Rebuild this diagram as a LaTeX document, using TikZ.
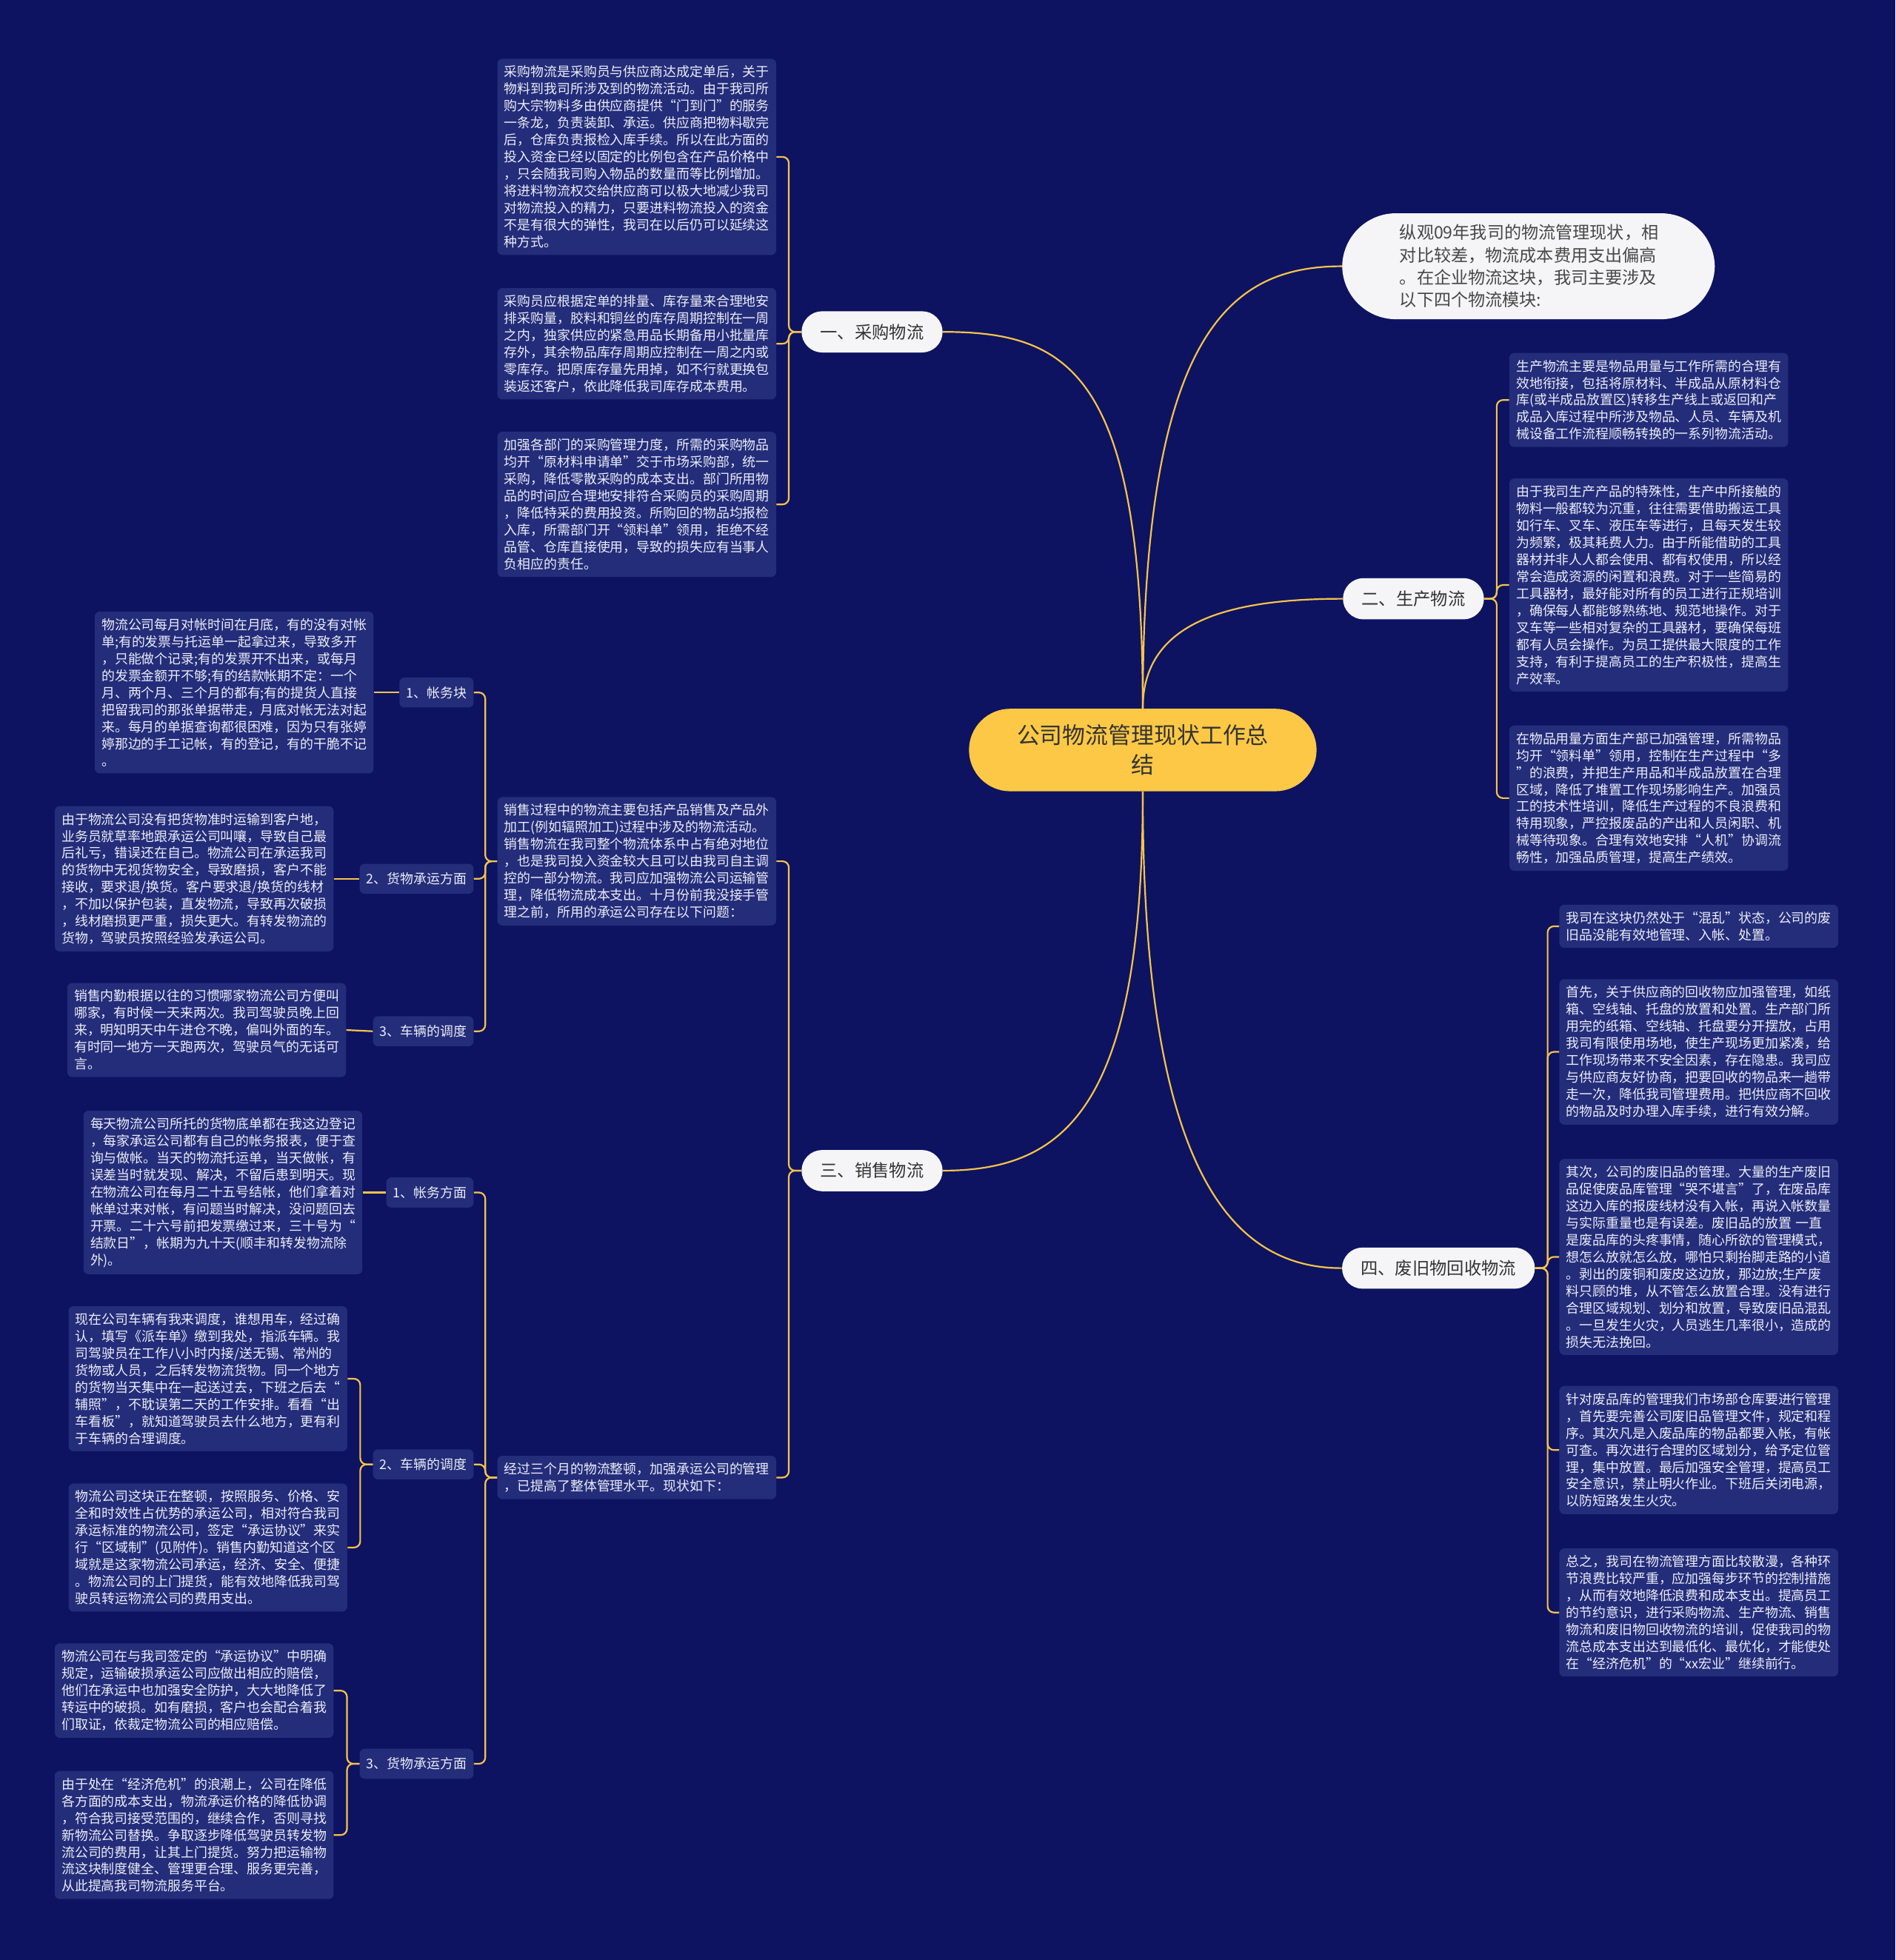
\documentclass[tikz,border=0pt]{standalone}
\usepackage{fontspec}
\setmainfont{Noto Sans CJK SC}
\definecolor{bgnavy}{RGB}{13,19,97}
\definecolor{boxnavy}{RGB}{36,45,122}
\definecolor{linkyellow}{RGB}{247,196,74}
\definecolor{rootyellow}{RGB}{253,200,69}
\definecolor{pillwhite}{RGB}{245,245,247}
\definecolor{darktext}{RGB}{51,51,51}
\definecolor{lighttext}{RGB}{236,238,246}
\tikzset{
  notebox/.style={fill=boxnavy, rounded corners=4pt, text=lighttext, text width=212pt,
    align=left, inner xsep=5.5pt, inner ysep=5.5pt, font=\fontsize{10.6}{13.6}\selectfont},
  subbranch/.style={fill=boxnavy, rounded corners=4pt, text=lighttext, inner xsep=5.5pt,
    inner ysep=0pt, minimum height=24pt, font=\fontsize{10.6}{13.6}\selectfont},
  branch/.style={fill=pillwhite, rounded corners=16.5pt, text=darktext, inner xsep=15pt,
    inner ysep=0pt, minimum height=33pt, font=\fontsize{13.8}{16}\selectfont},
  rootnode/.style={fill=rootyellow, rounded corners=33pt, text=darktext, align=center,
    minimum width=278pt, minimum height=66pt, font=\fontsize{18.3}{24}\selectfont},
  intro/.style={fill=pillwhite, rounded corners=43pt, text=darktext!90, text width=206pt,
    align=left, inner xsep=46pt, inner ysep=9pt, font=\fontsize{13.7}{18}\selectfont},
  link/.style={draw=linkyellow, line width=1.3pt, rounded corners=5pt}
}
\begin{document}
\begin{tikzpicture}[x=1pt, y=-1pt]
  \fill[bgnavy] (0,0) rectangle (1516,1568);
  % centre and main branches
  \node[rootnode] (root) at (914,600) {公司物流管理现状工作总\\结};
  \node[intro] (intro) at (1222.5,213) {纵观09年我司的物流管理现状，相\\对比较差，物流成本费用支出偏高\\。在企业物流这块，我司主要涉及\\以下四个物流模块:};
  \node[branch] (b1) at (697.5,265.5) {一、采购物流};
  \node[branch] (b2) at (1130.5,479) {二、生产物流};
  \node[branch] (b3) at (697.5,936.5) {三、销售物流};
  \node[branch] (b4) at (1150.5,1014.5) {四、废旧物回收物流};

  % 采购物流
  \node[notebox, anchor=east] (p1) at (621,125.5) {采购物流是采购员与供应商达成定单后，关于\\物料到我司所涉及到的物流活动。由于我司所\\购大宗物料多由供应商提供“门到门”的服务\\一条龙，负责装卸、承运。供应商把物料歇完\\后，仓库负责报检入库手续。所以在此方面的\\投入资金已经以固定的比例包含在产品价格中\\，只会随我司购入物品的数量而等比例增加。\\将进料物流权交给供应商可以极大地减少我司\\对物流投入的精力，只要进料物流投入的资金\\不是有很大的弹性，我司在以后仍可以延续这\\种方式。};
  \node[notebox, anchor=east] (p2) at (621,275) {采购员应根据定单的排量、库存量来合理地安\\排采购量，胶料和铜丝的库存周期控制在一周\\之内，独家供应的紧急用品长期备用小批量库\\存外，其余物品库存周期应控制在一周之内或\\零库存。把原库存量先用掉，如不行就更换包\\装返还客户，依此降低我司库存成本费用。};
  \node[notebox, anchor=east] (p3) at (621,403.5) {加强各部门的采购管理力度，所需的采购物品\\均开“原材料申请单”交于市场采购部，统一\\采购，降低零散采购的成本支出。部门所用物\\品的时间应合理地安排符合采购员的采购周期\\，降低特采的费用投资。所购回的物品均报检\\入库，所需部门开“领料单”领用，拒绝不经\\品管、仓库直接使用，导致的损失应有当事人\\负相应的责任。};

  % 生产物流
  \node[notebox, anchor=west] (m1) at (1207,320) {生产物流主要是物品用量与工作所需的合理有\\效地衔接，包括将原材料、半成品从原材料仓\\库(或半成品放置区)转移生产线上或返回和产\\成品入库过程中所涉及物品、人员、车辆及机\\械设备工作流程顺畅转换的一系列物流活动。};
  \node[notebox, anchor=west] (m2) at (1207,468) {由于我司生产产品的特殊性，生产中所接触的\\物料一般都较为沉重，往往需要借助搬运工具\\如行车、叉车、液压车等进行，且每天发生较\\为频繁，极其耗费人力。由于所能借助的工具\\器材并非人人都会使用、都有权使用，所以经\\常会造成资源的闲置和浪费。对于一些简易的\\工具器材，最好能对所有的员工进行正规培训\\，确保每人都能够熟练地、规范地操作。对于\\叉车等一些相对复杂的工具器材，要确保每班\\都有人员会操作。为员工提供最大限度的工作\\支持，有利于提高员工的生产积极性，提高生\\产效率。};
  \node[notebox, anchor=west] (m3) at (1207,638.5) {在物品用量方面生产部已加强管理，所需物品\\均开“领料单”领用，控制在生产过程中“多\\”的浪费，并把生产用品和半成品放置在合理\\区域，降低了堆置工作现场影响生产。加强员\\工的技术性培训，降低生产过程的不良浪费和\\特用现象，严控报废品的产出和人员闲职、机\\械等待现象。合理有效地安排“人机”协调流\\畅性，加强品质管理，提高生产绩效。};

  % 销售物流
  \node[notebox, anchor=east] (s1) at (621,689) {销售过程中的物流主要包括产品销售及产品外\\加工(例如辐照加工)过程中涉及的物流活动。\\销售物流在我司整个物流体系中占有绝对地位\\，也是我司投入资金较大且可以由我司自主调\\控的一部分物流。我司应加强物流公司运输管\\理，降低物流成本支出。十月份前我没接手管\\理之前，所用的承运公司存在以下问题：};
  \node[notebox, anchor=east] (s2) at (621,1182) {经过三个月的物流整顿，加强承运公司的管理\\，已提高了整体管理水平。现状如下：};

  \node[subbranch, anchor=east] (s11) at (379,554) {1、帐务块};
  \node[subbranch, anchor=east] (s12) at (379,703) {2、货物承运方面};
  \node[subbranch, anchor=east] (s13) at (379,825) {3、车辆的调度};
  \node[notebox, anchor=east] (s11t) at (299,554) {物流公司每月对帐时间在月底，有的没有对帐\\单;有的发票与托运单一起拿过来，导致多开\\，只能做个记录;有的发票开不出来，或每月\\的发票金额开不够;有的结款帐期不定：一个\\月、两个月、三个月的都有;有的提货人直接\\把留我司的那张单据带走，月底对帐无法对起\\来。每月的单据查询都很困难，因为只有张婷\\婷那边的手工记帐，有的登记，有的干脆不记\\。};
  \node[notebox, anchor=east] (s12t) at (267,703) {由于物流公司没有把货物准时运输到客户地，\\业务员就草率地跟承运公司叫嚷，导致自己最\\后礼亏，错误还在自己。物流公司在承运我司\\的货物中无视货物安全，导致磨损，客户不能\\接收，要求退/换货。客户要求退/换货的线材\\，不加以保护包装，直发物流，导致再次破损\\，线材磨损更严重，损失更大。有转发物流的\\货物，驾驶员按照经验发承运公司。};
  \node[notebox, anchor=east] (s13t) at (277,824) {销售内勤根据以往的习惯哪家物流公司方便叫\\哪家，有时候一天来两次。我司驾驶员晚上回\\来，明知明天中午进仓不晚，偏叫外面的车。\\有时同一地方一天跑两次，驾驶员气的无话可\\言。};

  \node[subbranch, anchor=east] (s21) at (379,954) {1、帐务方面};
  \node[subbranch, anchor=east] (s22) at (379,1171.5) {2、车辆的调度};
  \node[subbranch, anchor=east] (s23) at (379,1411) {3、货物承运方面};
  \node[notebox, anchor=east] (s21t) at (290,954) {每天物流公司所托的货物底单都在我这边登记\\，每家承运公司都有自己的帐务报表，便于查\\询与做帐。当天的物流托运单，当天做帐，有\\误差当时就发现、解决，不留后患到明天。现\\在物流公司在每月二十五号结帐，他们拿着对\\帐单过来对帐，有问题当时解决，没问题回去\\开票。二十六号前把发票缴过来，三十号为“\\结款日”，帐期为九十天(顺丰和转发物流除\\外)。};
  \node[notebox, anchor=east] (s22a) at (278,1103) {现在公司车辆有我来调度，谁想用车，经过确\\认，填写《派车单》缴到我处，指派车辆。我\\司驾驶员在工作八小时内接/送无锡、常州的\\货物或人员，之后转发物流货物。同一个地方\\的货物当天集中在一起送过去，下班之后去“\\辅照”，不耽误第二天的工作安排。看看“出\\车看板”，就知道驾驶员去什么地方，更有利\\于车辆的合理调度。};
  \node[notebox, anchor=east] (s22b) at (278,1238) {物流公司这块正在整顿，按照服务、价格、安\\全和时效性占优势的承运公司，相对符合我司\\承运标准的物流公司，签定“承运协议”来实\\行“区域制”(见附件)。销售内勤知道这个区\\域就是这家物流公司承运，经济、安全、便捷\\。物流公司的上门提货，能有效地降低我司驾\\驶员转运物流公司的费用支出。};
  \node[notebox, anchor=east] (s23a) at (267,1352.5) {物流公司在与我司签定的“承运协议”中明确\\规定，运输破损承运公司应做出相应的赔偿，\\他们在承运中也加强安全防护，大大地降低了\\转运中的破损。如有磨损，客户也会配合着我\\们取证，依裁定物流公司的相应赔偿。};
  \node[notebox, anchor=east] (s23b) at (267,1468) {由于处在“经济危机”的浪潮上，公司在降低\\各方面的成本支出，物流承运价格的降低协调\\，符合我司接受范围的，继续合作，否则寻找\\新物流公司替换。争取逐步降低驾驶员转发物\\流公司的费用，让其上门提货。努力把运输物\\流这块制度健全、管理更合理、服务更完善，\\从此提高我司物流服务平台。};

  % 废旧物回收物流
  \node[notebox, anchor=west] (w1) at (1247,741) {我司在这块仍然处于“混乱”状态，公司的废\\旧品没能有效地管理、入帐、处置。};
  \node[notebox, anchor=west] (w2) at (1247,841.5) {首先，关于供应商的回收物应加强管理，如纸\\箱、空线轴、托盘的放置和处置。生产部门所\\用完的纸箱、空线轴、托盘要分开摆放，占用\\我司有限使用场地，使生产现场更加紧凑，给\\工作现场带来不安全因素，存在隐患。我司应\\与供应商友好协商，把要回收的物品来一趟带\\走一次，降低我司管理费用。把供应商不回收\\的物品及时办理入库手续，进行有效分解。};
  \node[notebox, anchor=west] (w3) at (1247,1005.5) {其次，公司的废旧品的管理。大量的生产废旧\\品促使废品库管理“哭不堪言”了，在废品库\\这边入库的报废线材没有入帐，再说入帐数量\\与实际重量也是有误差。废旧品的放置 一直\\是废品库的头疼事情，随心所欲的管理模式，\\想怎么放就怎么放，哪怕只剩抬脚走路的小道\\。剥出的废铜和废皮这边放，那边放;生产废\\料只顾的堆，从不管怎么放置合理。没有进行\\合理区域规划、划分和放置，导致废旧品混乱\\。一旦发生火灾，人员逃生几率很小，造成的\\损失无法挽回。};
  \node[notebox, anchor=west] (w4) at (1247,1160) {针对废品库的管理我们市场部仓库要进行管理\\，首先要完善公司废旧品管理文件，规定和程\\序。其次凡是入废品库的物品都要入帐，有帐\\可查。再次进行合理的区域划分，给予定位管\\理，集中放置。最后加强安全管理，提高员工\\安全意识，禁止明火作业。下班后关闭电源，\\以防短路发生火灾。};
  \node[notebox, anchor=west] (w5) at (1247,1290) {总之，我司在物流管理方面比较散漫，各种环\\节浪费比较严重，应加强每步环节的控制措施\\，从而有效地降低浪费和成本支出。提高员工\\的节约意识，进行采购物流、生产物流、销售\\物流和废旧物回收物流的培训，促使我司的物\\流总成本支出达到最低化、最优化，才能使处\\在“经济危机”的“xx宏业”继续前行。};

  % connectors
  \draw[link] (root.north) .. controls +(0,-270) and +(100,0) .. (b1.east);
  \draw[link] (root.north) .. controls +(0,-300) and +(-90,0) .. (intro.west);
  \draw[link] (root.north) .. controls +(0,-70) and +(-90,0) .. (b2.west);
  \draw[link] (root.south) .. controls +(0,250) and +(100,0) .. (b3.east);
  \draw[link] (root.south) .. controls +(0,300) and +(-90,0) .. (b4.west);
  \foreach \c in {p1,p2,p3} \draw[link] (b1.west) -- ++(-10,0) |- (\c.east);
  \foreach \c in {m1,m2,m3} \draw[link] (b2.east) -- ++(10,0) |- (\c.west);
  \foreach \c in {s1,s2} \draw[link] (b3.west) -- ++(-10,0) |- (\c.east);
  \foreach \c in {w1,w2,w3,w4,w5} \draw[link] (b4.east) -- ++(10,0) |- (\c.west);
  \foreach \c in {s11,s12,s13} \draw[link] (s1.west) -- ++(-9.5,0) |- (\c.east);
  \foreach \c in {s21,s22,s23} \draw[link] (s2.west) -- ++(-9.5,0) |- (\c.east);
  \draw[link] (s11.west) -- (s11t.east);
  \draw[link] (s12.west) -- (s12t.east);
  \draw[link] (s13.west) -- (s13t.east);
  \draw[link] (s21.west) -- (s21t.east);
  \foreach \c in {s22a,s22b} \draw[link] (s22.west) -- ++(-10,0) |- (\c.east);
  \foreach \c in {s23a,s23b} \draw[link] (s23.west) -- ++(-10,0) |- (\c.east);
\end{tikzpicture}
\end{document}
